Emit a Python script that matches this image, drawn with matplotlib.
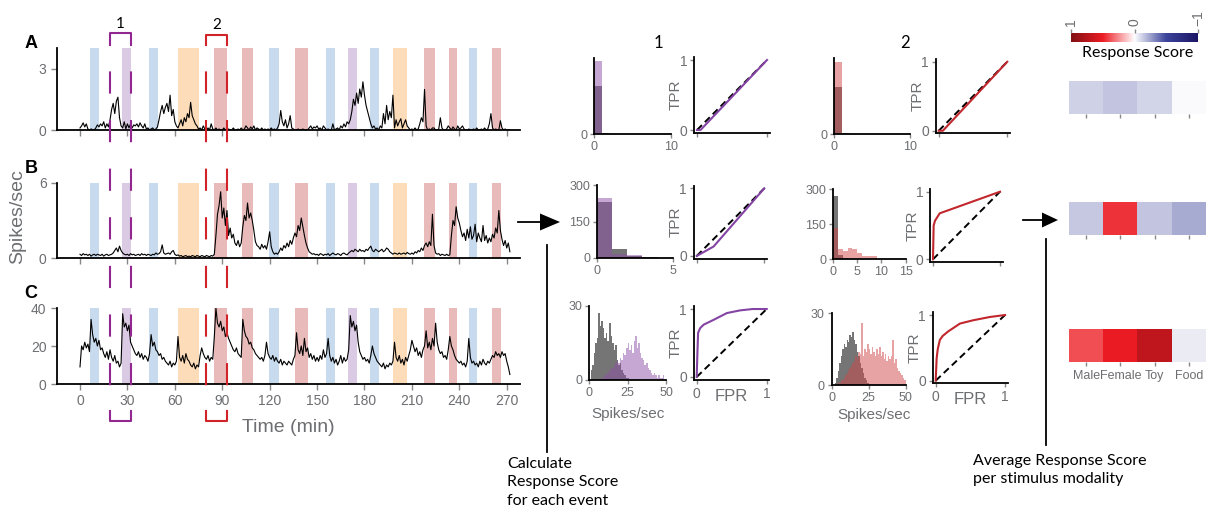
import matplotlib
matplotlib.use('Agg')
import matplotlib.pyplot as plt
import numpy as np
from matplotlib.lines import Line2D
from matplotlib.patches import Polygon
from matplotlib.colors import LinearSegmentedColormap
from matplotlib import transforms

plt.rcParams['font.family'] = ['Liberation Sans', 'DejaVu Sans']
plt.rcParams['lines.scale_dashes'] = False

# ---- data ----
# firing rate traces, one value per minute from t=0
trace_a = [0.1, 0.2, 0.35, 0.15, 0.3, 0.05, 0.0, 0.05, 0.02, 0.0,
           0.1, 0.25, 0.15, 0.3, 0.2, 0.4, 0.1, 0.3, 0.15, 0.5,
           1.0, 1.3, 0.8, 1.4, 1.6, 0.6, 0.2, 0.1, 0.4, 0.05,
           0.3, 0.1, 0.3, 0.1, 0.25, 0.2, 0.3, 0.15, 0.35, 0.2,
           0.1, 0.3, 0.05, 0.1, 0.0, 0.05, 0.1, 0.0, 0.05, 0.15,
           0.5, 0.9, 1.2, 0.8, 1.1, 1.3, 0.9, 1.7, 0.7, 1.0,
           0.4, 0.2, 0.1, 0.3, 0.5, 0.2, 0.6, 0.4, 0.8, 0.6,
           1.35, 0.7, 0.5, 0.3, 0.2, 0.05, 0.1, 0.0, 0.2, 0.05,
           0.0, 0.1, 0.0, 0.3, 0.05, 0.0, 0.1, 0.0, 0.05, 0.0,
           0.0, 0.1, 0.0, 0.0, 0.05, 0.0, 0.0, 0.1, 0.0, 0.0,
           0.05, 0.0, 0.1, 0.0, 0.05, 0.2, 0.1, 0.0, 0.15, 0.05,
           0.2, 0.0, 0.1, 0.05, 0.0, 0.1, 0.0, 0.05, 0.0, 0.05,
           0.0, 0.1, 0.0, 0.05, 0.0, 0.1, 0.3, 0.95, 0.4, 0.2,
           0.5, 0.1, 0.3, 0.7, 0.1, 0.05, 0.0, 0.0, 0.05, 0.0,
           0.0, 0.05, 0.0, 0.0, 0.0, 0.1, 0.2, 0.05, 0.15, 0.1,
           0.2, 0.05, 0.1, 0.0, 0.2, 0.1, 0.0, 0.05, 0.0, 0.0,
           0.3, 0.0, 0.05, 0.1, 0.0, 0.2, 0.1, 0.3, 0.15, 0.4,
           0.3, 0.5, 0.9, 1.5, 1.2, 1.8, 1.3, 2.0, 1.6, 2.35,
           1.7, 1.2, 0.9, 0.6, 0.3, 0.1, 0.2, 0.05, 0.1, 0.0,
           0.2, 0.1, 0.8, 0.3, 1.2, 0.5, 0.9, 0.6, 1.7, 0.1,
           0.5, 0.2, 0.4, 0.55, 0.1, 0.3, 0.5, 0.2, 0.1, 0.0,
           0.05, 0.0, 0.1, 0.0, 0.05, 0.3, 0.6, 0.4, 1.98, 0.2,
           0.0, 0.05, 0.0, 0.1, 0.1, 0.0, 0.0, 0.05, 0.6, 0.1,
           0.0, 0.0, 0.05, 0.2, 0.1, 0.0, 0.15, 0.05, 0.0, 0.2,
           0.05, 0.1, 0.2, 0.05, 0.0, 0.0, 0.05, 0.0, 0.0, 0.05,
           0.0, 0.1, 0.0, 0.0, 0.05, 0.0, 0.1, 0.0, 0.05, 0.3,
           0.8, 0.1, 0.0, 0.05, 0.0, 0.0, 0.45, 0.1, 0.0, 0.05,
           0.0, 0.0, 0.0]
trace_b = [0.3, 0.2, 0.35, 0.25, 0.3, 0.2, 0.3, 0.15, 0.25, 0.3,
           0.2, 0.3, 0.25, 0.2, 0.3, 0.15, 0.25, 0.3, 0.2, 0.25,
           0.3, 0.4, 0.6, 0.8, 0.5, 0.95, 0.6, 0.4, 0.3, 0.25,
           0.3, 0.2, 0.35, 0.25, 0.3, 0.2, 0.25, 0.3, 0.2, 0.35,
           0.25, 0.3, 0.2, 0.3, 0.25, 0.2, 0.3, 0.25, 0.4, 0.3,
           0.35, 0.5, 1.05, 0.4, 0.3, 0.35, 0.4, 0.3, 0.5, 0.6,
           0.3, 0.2, 0.25, 0.15, 0.2, 0.1, 0.15, 0.2, 0.1, 0.15,
           0.1, 0.2, 0.15, 0.1, 0.2, 0.15, 0.1, 0.2, 0.15, 0.1,
           0.2, 0.15, 0.1, 0.2, 0.15, 0.3, 1.8, 3.5, 4.2, 5.3,
           3.2, 4.0, 2.6, 3.8, 1.8, 2.4, 1.6, 1.9, 1.2, 1.0,
           1.4, 0.9, 1.2, 2.5, 3.4, 3.0, 4.4, 3.2, 3.6, 3.0,
           2.2, 1.3, 1.0, 0.9, 0.7, 1.1, 0.8, 1.0, 0.7, 1.3,
           2.1, 0.9, 0.5, 0.3, 0.4, 0.3, 0.5, 0.8, 0.6, 1.0,
           0.8, 1.2, 0.9, 1.4, 1.1, 1.6, 2.0, 1.7, 2.6, 2.2,
           3.2, 2.5, 1.8, 1.2, 0.8, 0.5, 0.4, 0.3, 0.35, 0.25,
           0.3, 0.2, 0.35, 0.3, 0.2, 0.3, 0.25, 0.35, 0.2, 0.3,
           0.4, 0.3, 0.25, 0.35, 0.3, 0.2, 0.35, 0.4, 0.3, 0.25,
           0.4, 0.5, 0.6, 0.5, 0.7, 0.6, 0.5, 0.7, 0.55, 0.6,
           0.5, 0.7, 0.6, 0.8, 0.95, 0.6, 0.5, 0.7, 0.6, 0.5,
           0.6, 0.7, 0.5, 0.6, 0.8, 0.7, 0.5, 0.4, 0.3, 0.4,
           0.35, 0.3, 0.4, 0.3, 0.35, 0.4, 0.3, 0.45, 0.35, 0.3,
           0.4, 0.3, 0.5, 0.4, 0.6, 0.5, 0.8, 0.6, 1.0, 1.2,
           0.9, 1.3, 1.0, 3.5, 1.0, 0.4, 0.3, 0.35, 0.2, 0.3,
           0.25, 0.2, 0.3, 0.2, 0.25, 1.8, 3.0, 2.6, 4.1, 3.2,
           2.8, 2.2, 1.7, 2.0, 1.4, 2.3, 1.6, 2.5, 1.5, 1.8,
           2.7, 1.3, 2.0, 1.6, 1.3, 2.6, 1.4, 1.8, 1.2, 1.6,
           1.3, 1.9, 1.6, 2.4, 2.0, 3.8, 2.2, 1.5, 1.0, 1.4,
           0.8, 1.2, 0.5]
trace_c = [9, 20, 18, 22, 19, 21, 17, 34, 26, 22,
           24, 20, 23, 18, 19, 16, 14, 17, 13, 18,
           14, 12, 15, 11, 12, 9, 11, 37, 30, 32,
           28, 31, 22, 20, 18, 16, 15, 17, 14, 16,
           13, 15, 14, 12, 16, 26, 20, 22, 18, 17,
           15, 16, 13, 14, 12, 11, 10, 12, 9, 11,
           10, 12, 25, 14, 12, 15, 11, 16, 13, 12,
           10, 9, 11, 8, 10, 9, 15, 19, 16, 14,
           13, 15, 12, 14, 13, 25, 40, 32, 30, 33,
           28, 30, 25, 27, 24, 22, 20, 18, 17, 19,
           16, 15, 14, 34, 28, 25, 24, 21, 22, 19,
           18, 16, 15, 14, 13, 14, 12, 15, 22, 16,
           14, 13, 15, 12, 14, 12, 11, 13, 10, 12,
           11, 10, 12, 11, 10, 13, 15, 27, 18, 16,
           20, 15, 24, 17, 19, 14, 16, 13, 15, 12,
           14, 12, 15, 13, 18, 14, 16, 24, 15, 12,
           14, 11, 13, 10, 12, 15, 11, 14, 12, 13,
           18, 36, 30, 33, 28, 31, 22, 17, 15, 13,
           14, 12, 13, 11, 15, 20, 16, 14, 12, 11,
           10, 9, 11, 8, 10, 9, 11, 10, 12, 22,
           14, 12, 15, 11, 13, 10, 14, 12, 15, 18,
           23, 20, 17, 19, 15, 17, 14, 18, 20, 28,
           19, 22, 18, 24, 20, 32, 22, 18, 16, 17,
           14, 15, 13, 18, 25, 20, 18, 15, 13, 12,
           11, 12, 10, 11, 9, 12, 24, 14, 11, 12,
           10, 11, 9, 12, 10, 13, 11, 10, 12, 11,
           13, 15, 14, 17, 15, 16, 14, 17, 15, 16,
           12, 9, 5]

event_start = [6.3, 26.6, 43.9, 61.8, 84.6, 102.5, 119.8, 136.1, 155.7, 169.6,
               183.5, 198.3, 217.7, 233.7, 246.4, 260.8]
event_end = [12.2, 32.1, 49.4, 75.3, 93.0, 109.5, 125.7, 144.3, 161.2, 175.1,
             189.4, 207.2, 224.5, 238.4, 251.1, 266.5]
event_type = ['Toy', 'Male', 'Toy', 'Food', 'Female', 'Female', 'Toy', 'Female',
              'Toy', 'Male', 'Toy', 'Food', 'Female', 'Female', 'Toy', 'Female']
event_colors = {'Male': '#dacae3', 'Female': '#e8baba', 'Toy': '#c7daee', 'Food': '#fddcb9'}

window_1 = (19, 32)
window_2 = (79.5, 93)

# histograms: counts per 1 spike/sec bin
hist_a1_base, hist_a1_evt = [189, 3], [289, 0]
hist_a2_base, hist_a2_evt = [184, 3], [285, 0]
hist_b1_base, hist_b1_evt = [229, 38, 8, 3], [245, 18, 12, 4]
hist_b2_base = [271, 18, 5]
hist_b2_evt = [136, 44, 36, 49, 44, 26, 16, 16, 16, 3]
hist_c1_base = [0, 4, 6, 11, 15, 17, 27, 22, 24, 21, 17, 19, 16, 23, 18, 15, 12, 14,
                8, 6, 7, 4, 3, 2, 1, 1, 0]
hist_c1_evt = [0, 0, 0, 0, 0, 0, 0, 0, 1, 1, 2, 2, 3, 4, 5, 5, 6, 7, 8, 7,
               9, 8, 11, 10, 13, 15, 12, 14, 11, 16, 18, 13, 15, 11, 9, 8, 6, 7, 5, 4,
               3, 2, 3, 2, 1, 2, 1, 1, 2, 0]
hist_c2_base = [0, 0, 1, 3, 6, 9, 12, 15, 17, 16, 19, 18, 21, 20, 22, 19, 17, 14, 12, 9,
                7, 5, 3, 2, 1]
hist_c2_evt = [0, 0, 0, 0, 1, 1, 2, 2, 3, 4, 5, 6, 7, 8, 9, 10, 12, 11, 14, 13,
               26, 12, 15, 14, 17, 15, 13, 16, 14, 12, 15, 13, 16, 12, 14, 11, 13, 10, 12, 11,
               12, 19, 9, 11, 7, 6, 5, 4, 3, 2]

# ROC curves
roc_a1 = ([0, 0.05, 1], [0, 0, 1])
roc_a2 = ([0, 0.06, 1], [0, 0, 1])
roc_b1 = ([0, 0.25, 1], [0, 0.14, 1])
roc_b2 = ([0, 0.01, 0.03, 0.1, 1], [0, 0.5, 0.57, 0.68, 1])
roc_c1 = ([0, 0.01, 0.02, 0.05, 0.1, 0.24, 0.43, 0.62, 0.8, 1],
          [0, 0.35, 0.65, 0.72, 0.77, 0.84, 0.94, 0.98, 1.0, 1.0])
roc_c2 = ([0, 0.014, 0.03, 0.06, 0.1, 0.18, 0.35, 0.54, 0.78, 1],
          [0, 0.34, 0.48, 0.62, 0.68, 0.75, 0.87, 0.92, 0.97, 1])

# average response score per modality
modalities = ['Male', 'Female', 'Toy', 'Food']
score_a = [-0.12, -0.15, -0.115, -0.015]
score_b = [-0.145, 0.45, -0.155, -0.22]
score_c = [0.385, 0.5, 0.71, -0.05]

# ---- figure ----
W, H = 1220, 526
fig = plt.figure(figsize=(12.2, 5.26), dpi=100)
GRAY = '#6d6e71'
PURPLE = '#8344a4'
RED = '#c1272d'


def box(l, t, r, b):
    return [l / W, 1 - b / H, (r - l) / W, (b - t) / H]


def fy(y):
    return 1 - y / H


# traces
rows = [(trace_a, 48, 130, [0, 3], 4, 'A', 43),
        (trace_b, 183, 258, [0, 6], 6, 'B', 168),
        (trace_c, 308, 384, [0, 20, 40], 40, 'C', 294)]
trace_axes = []
for k, (vals, top, bot, yt, ytop, letter, ly) in enumerate(rows):
    ax = fig.add_axes(box(57, top, 520, bot))
    for s, e, m in zip(event_start, event_end, event_type):
        ax.axvspan(s, e, color=event_colors[m], lw=0)
    ax.plot(np.arange(len(vals)), vals, color='k', lw=0.8)
    ax.set_xlim(-14.55, 278.4)
    ax.set_ylim(0, ytop)
    ax.set_yticks(yt)
    ax.set_xticks(range(0, 271, 30))
    for sp in ['top', 'right']:
        ax.spines[sp].set_visible(False)
    for sp in ['left', 'bottom']:
        ax.spines[sp].set_linewidth(1.3)
    ax.tick_params(colors='#888888', labelcolor=GRAY, labelsize=10, length=4, width=1)
    if k < 2:
        ax.set_xticklabels([])
    fig.text(31 / W, fy(ly), letter, fontsize=13, fontweight='bold', ha='center', va='center')
    trace_axes.append(ax)

fig.text(18 / W, fy(217), 'Spikes/sec', rotation=90, fontsize=14, color=GRAY, ha='center', va='center')
fig.text(288 / W, fy(428), 'Time (min)', fontsize=14, color=GRAY, ha='center', va='center')

# brackets and dashed guide lines
tr = transforms.blended_transform_factory(trace_axes[2].transData, fig.transFigure)
for (t0, t1), col, label, ytop in [(window_1, '#92278f', '1', 33), (window_2, '#d2232a', '2', 34.5)]:
    fig.add_artist(Line2D([t0, t0, t1, t1], [fy(45), fy(ytop), fy(ytop), fy(45)],
                          transform=tr, color=col, lw=1.5))
    fig.add_artist(Line2D([t0, t0, t1, t1], [fy(411), fy(421), fy(421), fy(411)],
                          transform=tr, color=col, lw=1.5))
    for t in (t0, t1):
        fig.add_artist(Line2D([t, t], [fy(45), fy(411)], transform=tr, color=col, lw=1.5,
                              linestyle=(16, (16, 19))))
    fig.text((t0 + t1) / 2, fy(ytop - 9), label, transform=tr, fontsize=11,
             ha='center', va='center', family=['Lato', 'DejaVu Sans'])


def style(ax):
    for sp in ['top', 'right']:
        ax.spines[sp].set_visible(False)
    for sp in ['left', 'bottom']:
        ax.spines[sp].set_linewidth(1.3)
    ax.tick_params(colors='#888888', labelcolor=GRAY, labelsize=9, length=3, width=1, pad=2)


def hist(rect, base, evt, col, xlim, xt, ylim, yt):
    ax = fig.add_axes(rect)
    ax.bar(np.arange(len(base)), base, width=1, align='edge', color='#202020', alpha=0.62, lw=0)
    ax.bar(np.arange(len(evt)), evt, width=1, align='edge', color=col, alpha=0.5, lw=0)
    ax.set_xlim(*xlim)
    ax.set_ylim(*ylim)
    ax.set_xticks(xt)
    ax.set_yticks(yt)
    style(ax)
    return ax


def roc(rect, curve, col, bottom_row=False):
    ax = fig.add_axes(rect)
    ax.plot([0, 1], [0, 1], color='k', lw=1.4, linestyle=(0, (5, 3)))
    ax.plot(curve[0], curve[1], color=col, lw=1.5)
    ax.set_xlim(-0.04, 1.04)
    ax.set_ylim(-0.04, 1.04)
    ax.set_xticks([0, 1])
    ax.set_yticks([0, 1])
    style(ax)
    ax.tick_params(labelsize=10)
    ax.set_ylabel('TPR', fontsize=11, color=GRAY)
    ax.yaxis.set_label_coords(-0.15, 0.5)
    if bottom_row:
        ax.text(0.5, -0.12, 'FPR', transform=ax.transAxes, fontsize=12, color=GRAY,
                ha='center', va='top')
    else:
        ax.set_xticklabels([])
    return ax


PURPLE_H = '#8e4fa8'
RED_H = '#d04848'
hist(box(594, 58, 671, 134), hist_a1_base, hist_a1_evt, PURPLE_H, (0, 10), [0, 10], (0, 300), [0])
roc(box(694.2, 57.2, 769.8, 132.8), roc_a1, PURPLE)
hist(box(834, 58, 910, 134), hist_a2_base, hist_a2_evt, RED_H, (0, 10), [0, 10], (0, 300), [0])
roc(box(936, 59, 1010, 133.5), roc_a2, RED)

hist(box(597, 185, 672.7, 258), hist_b1_base, hist_b1_evt, PURPLE_H, (0, 5), [0, 5], (0, 300), [0, 150, 300])
roc(box(694, 185.6, 767, 258.7), roc_b1, PURPLE)
hist(box(833, 189.3, 905.7, 259.3), hist_b2_base, hist_b2_evt, RED_H, (0, 15), [0, 5, 10, 15], (0, 300), [0, 150, 300])
roc(box(930.3, 189, 1002.7, 262), roc_b2, RED)

hist(box(589, 306, 666, 380), hist_c1_base, hist_c1_evt, PURPLE_H, (0, 50), [0, 25, 50], (0, 30), [0, 30])
roc(box(693.9, 306.3, 769.5, 379.7), roc_c1, PURPLE, True)
hist(box(831.7, 313.3, 905.7, 385), hist_c2_base, hist_c2_evt, RED_H, (0, 50), [0, 25, 50], (0, 30), [0, 30])
roc(box(932.9, 312.4, 1007.8, 383.3), roc_c2, RED, True)

fig.text(628 / W, fy(414), 'Spikes/sec', fontsize=11, color=GRAY, ha='center', va='center')
fig.text(874 / W, fy(415), 'Spikes/sec', fontsize=11, color=GRAY, ha='center', va='center')
fig.text(658 / W, fy(43), '1', fontsize=12, ha='center', va='center', family=['Lato', 'DejaVu Sans'])
fig.text(905 / W, fy(43), '2', fontsize=12, ha='center', va='center', family=['Lato', 'DejaVu Sans'])

# heatmaps
cmap = LinearSegmentedColormap.from_list(
    'score', [(0.0, '#1b1464'), (0.25, '#3b449b'), (0.5, '#ffffff'), (0.75, '#ed1c24'), (1.0, '#7f0f12')])
for k, (scores, top, bot) in enumerate([(score_a, 81, 114), (score_b, 202, 235), (score_c, 329, 362)]):
    ax = fig.add_axes(box(1069, top, 1206, bot))
    ax.imshow(np.array([scores]), cmap=cmap, vmin=-1, vmax=1, aspect='auto')
    for sp in ax.spines.values():
        sp.set_visible(False)
    ax.set_yticks([])
    ax.set_xticks(range(len(modalities)))
    ax.tick_params(axis='x', colors='#888888', labelcolor=GRAY, length=3, width=1, labelsize=9, pad=3)
    if k < 2:
        ax.set_xticklabels([])
    else:
        ax.set_xticklabels(modalities)

cax = fig.add_axes(box(1071, 33, 1198, 42))
sm = plt.cm.ScalarMappable(cmap=cmap, norm=plt.Normalize(-1, 1))
cb = fig.colorbar(sm, cax=cax, orientation='horizontal')
cb.outline.set_visible(False)
cax.invert_xaxis()
cax.xaxis.set_ticks_position('top')
cb.set_ticks([1, 0, -1])
cb.set_ticklabels(['1', '0', '\u22121'])
cax.tick_params(axis='x', colors='#888888', labelcolor=GRAY, length=3, width=1, labelsize=10,
                labelrotation=90, pad=2)
fig.text(1138 / W, fy(53), 'Response Score', fontsize=11.5, ha='center', va='center',
         family=['Lato', 'DejaVu Sans'])

# arrows and flow notes
for (x0, x1, x2, y, h, xv, yv0, yv1) in [(518, 540, 560, 222, 17, 547, 245, 452),
                                        (1023, 1042, 1058, 220, 15, 1046, 239, 445)]:
    fig.add_artist(Line2D([x0 / W, x1 / W], [fy(y), fy(y)], color='k', lw=1.3))
    fig.add_artist(Polygon([[x1 / W, fy(y - h / 2)], [x2 / W, fy(y)], [x1 / W, fy(y + h / 2)]],
                           closed=True, color='k', lw=0))
    fig.add_artist(Line2D([xv / W, xv / W], [fy(yv0), fy(yv1)], color='k', lw=1.3))

fig.text(507 / W, fy(457), 'Calculate\nResponse Score\nfor each event', fontsize=11.5,
         ha='left', va='top', linespacing=1.4, family=['Lato', 'DejaVu Sans'])
fig.text(973 / W, fy(454), 'Average Response Score\nper stimulus modality', fontsize=11.5,
         ha='left', va='top', linespacing=1.4, family=['Lato', 'DejaVu Sans'])

fig.savefig('out.png', dpi=100)
